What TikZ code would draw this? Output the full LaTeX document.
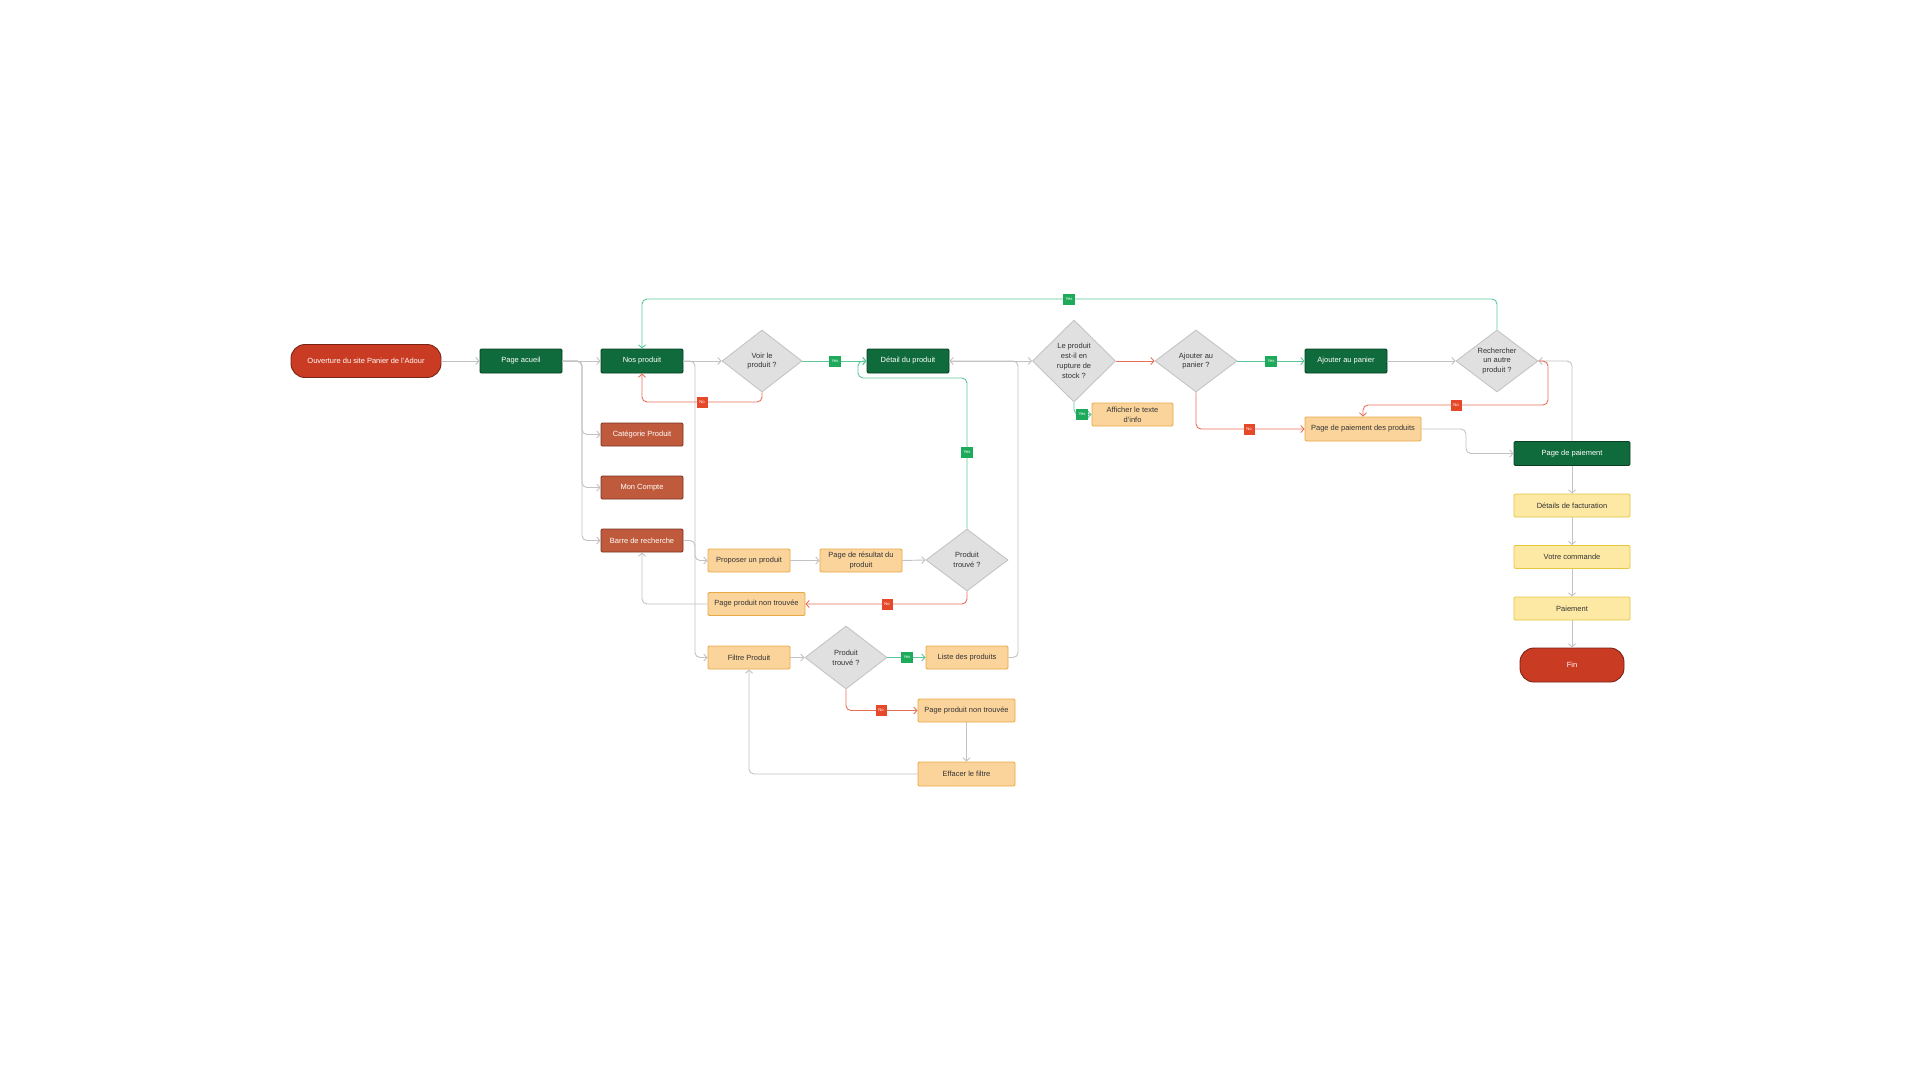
\documentclass[tikz,border=0pt]{standalone}
\usepackage{fontspec}
\setmainfont{Liberation Sans}
\usetikzlibrary{shapes.geometric,arrows.meta}
\definecolor{dgreen}{HTML}{0F6B3B}
\definecolor{dgreenb}{HTML}{0A3F22}
\definecolor{brn}{HTML}{BF5B3C}
\definecolor{brnb}{HTML}{7B3220}
\definecolor{orng}{HTML}{FBD49C}
\definecolor{orngb}{HTML}{E8A844}
\definecolor{yel}{HTML}{FDE9A4}
\definecolor{yelb}{HTML}{E5C840}
\definecolor{termred}{HTML}{C93B22}
\definecolor{termb}{HTML}{7A2415}
\definecolor{diaf}{HTML}{E0E0E0}
\definecolor{diab}{HTML}{C4C4C4}
\definecolor{txt}{HTML}{333333}
\definecolor{gline}{HTML}{C2C2C2}
\definecolor{grnline}{HTML}{5CC79A}
\definecolor{redline}{HTML}{E8705A}
\definecolor{yesf}{HTML}{1DAA5A}
\definecolor{nof}{HTML}{E5492A}
\newcommand\fsz{\fontsize{7.5}{9.8}\selectfont}
\newcommand\lblsz{\fontsize{4.2}{5}\selectfont}
\tikzset{
 boxbase/.style={draw, line width=0.9pt, inner sep=0pt, font=\fsz, align=center, rounded corners=1.2pt},
 gbox/.style={boxbase, fill=dgreen, draw=dgreenb, text=white, minimum width=82pt, minimum height=24pt},
 bbox/.style={boxbase, fill=brn, draw=brnb, text=white, minimum width=82pt, minimum height=23pt},
 obox/.style={boxbase, fill=orng, draw=orngb, text=txt, minimum width=82pt, minimum height=23pt},
 ybox/.style={boxbase, fill=yel, draw=yelb, text=txt, minimum width=116pt, minimum height=23pt},
 term/.style={boxbase, fill=termred, draw=termb, text=white, rounded corners=14pt},
 dia/.style={diamond, draw=diab, fill=diaf, line width=0.9pt, inner sep=0pt, minimum width=82pt, minimum height=62pt},
 dtext/.style={font=\fsz, align=center, text=txt, inner sep=0pt},
 gc/.style={draw=gline, line width=0.9pt, rounded corners=5pt, -{Straight Barb[length=3.2pt,width=7pt]}},
 gn/.style={gc, draw=grnline},
 rd/.style={gc, draw=redline},
 yeslbl/.style={fill=yesf, text=white, font=\lblsz, minimum width=12pt, minimum height=11pt, inner sep=0pt},
 nolbl/.style={fill=nof, text=white, font=\lblsz, minimum width=11pt, minimum height=11pt, inner sep=0pt},
}
\begin{document}
\begin{tikzpicture}[x=1pt,y=-1pt]
\fill[white] (0,0) rectangle (1920,1080);
\useasboundingbox (0,0) rectangle (1920,1080);

% nodes
\node[term, minimum width=150pt, minimum height=33pt] (ouv) at (366,361) {Ouverture du site Panier de l'Adour};
\node[gbox] (acc) at (521,361) {Page acueil};
\node[gbox] (nos) at (642,361) {Nos produit};
\node[dia, minimum width=80pt] (voir) at (762,361) {};
\node[dtext] (voirt) at (voir) {Voir le\\produit ?};
\node[bbox] (cat) at (642,434.5) {Catégorie Produit};
\node[bbox] (mon) at (642,487.5) {Mon Compte};
\node[bbox] (barre) at (642,540.5) {Barre de recherche};
\node[obox] (prop) at (749,560.5) {Proposer un produit};
\node[obox] (res) at (861,560.5) {Page de résultat du\\produit};
\node[dia] (tr1) at (967,560) {};
\node[dtext] (tr1t) at (tr1) {Produit\\trouvé ?};
\node[obox, minimum width=97pt] (pnt1) at (756.5,604) {Page produit non trouvée};
\node[obox] (filtre) at (749,657.5) {Filtre Produit};
\node[dia, minimum height=63pt] (tr2) at (846,657.5) {};
\node[dtext] (tr2t) at (tr2) {Produit\\trouvé ?};
\node[obox] (liste) at (967,657.5) {Liste des produits};
\node[obox, minimum width=97pt] (pnt2) at (966.5,710.5) {Page produit non trouvée};
\node[obox, minimum width=97pt, minimum height=24pt] (eff) at (966.5,774) {Effacer le filtre};
\node[gbox] (det) at (908,361) {Détail du produit};
\node[dia, minimum width=83pt, minimum height=82pt] (rupt) at (1074,361) {};
\node[dtext] (ruptt) at (rupt) {Le produit\\est-il en\\rupture de\\stock ?};
\node[obox, minimum width=81pt] (aff) at (1132.5,414.5) {Afficher le texte\\d'info};
\node[dia] (ajq) at (1196,361) {};
\node[dtext] (ajqt) at (ajq) {Ajouter au\\panier ?};
\node[gbox] (ajb) at (1346,361) {Ajouter au panier};
\node[dia] (rech) at (1497,361) {};
\node[dtext] (recht) at (rech) {Rechercher\\un autre\\produit ?};
\node[obox, minimum width=116pt, minimum height=24pt] (ppp) at (1363,429) {Page de paiement des produits};
\node[gbox, minimum width=116pt] (pp) at (1572,453.5) {Page de paiement};
\node[ybox] (fact) at (1572,505.5) {Détails de facturation};
\node[ybox] (cmd) at (1572,557) {Votre commande};
\node[ybox] (paie) at (1572,608.5) {Paiement};
\node[term, minimum width=104pt, minimum height=34pt] (fin) at (1572,665) {Fin};

% helper coordinates
\coordinate (bx) at (582,361);
\coordinate (nx) at (695,361);
\coordinate (bx2) at (695,540.5);
\coordinate (lx) at (1018,657.5);

% gray connectors
\draw[gc] (ouv.east) -- (acc.west);
\draw[gc] (acc.east) -- (nos.west);
\draw[gc] (acc.east) -- (bx) |- (cat.west);
\draw[gc] (acc.east) -- (bx) |- (mon.west);
\draw[gc] (acc.east) -- (bx) |- (barre.west);
\draw[gc] (nos.east) -- (voir.west);
\draw[gc] (nos.east) -- (nx) |- (filtre.west);
\draw[gc] (barre.east) -- (bx2) |- (prop.west);
\draw[gc] (prop.east) -- (res.west);
\draw[gc] (res.east) -- (tr1.west);
\draw[gc] (pnt1.west) -| (barre.south);
\draw[gc] (filtre.east) -- (tr2.west);
\draw[gc] (pnt2.south) -- (eff.north);
\draw[gc] (eff.west) -| (filtre.south);
\draw[gc] (det.east) -- (rupt.west);
\draw[gc] (liste.east) -- (lx) |- (det.east);
\draw[gc] (ajb.east) -- (rech.west);
\draw[gc] (pp.north) |- (rech.east);
\draw[gc] (ppp.east) -- (1466,429) -- (1466,453.5) -- (pp.west);
\draw[gc] (pp.south) -- (fact.north);
\draw[gc] (fact.south) -- (cmd.north);
\draw[gc] (cmd.south) -- (paie.north);
\draw[gc] (paie.south) -- (fin.north);

% green connectors
\draw[gn] (voir.east) -- (det.west);
\draw[gn] (tr1.north) -- (967,378) -- (858,378) -- (858,361) -- (det.west);
\draw[gn] (tr2.east) -- (liste.west);
\draw[gn] (rupt.south) |- (aff.west);
\draw[gn] (ajq.east) -- (ajb.west);
\draw[gn] (rech.north) -- (1497,299) -- (642,299) -- (nos.north);

% red connectors
\draw[rd] (voir.south) -- (762,402) -| (nos.south);
\draw[rd] (tr1.south) |- (pnt1.east);
\draw[rd] (tr2.south) |- (pnt2.west);
\draw[rd] (rupt.east) -- (ajq.west);
\draw[rd] (ajq.south) |- (ppp.west);
\draw[rd] (rech.east) -- (1548,361) -- (1548,405) -- (1363,405) -- (ppp.north);

% labels
\node[yeslbl] (y1) at (835,361) {Yes};
\node[yeslbl] (y2) at (967,452) {Yes};
\node[yeslbl] (y3) at (907,657.5) {Yes};
\node[yeslbl] (y4) at (1082,414.5) {Yes};
\node[yeslbl] (y5) at (1271,361) {Yes};
\node[yeslbl] (y6) at (1069,299) {Yes};
\node[nolbl] (n1) at (702,402) {No};
\node[nolbl] (n2) at (887,604) {No};
\node[nolbl] (n3) at (881,710.5) {No};
\node[nolbl] (n4) at (1249,429) {No};
\node[nolbl] (n5) at (1456,405) {No};
\end{tikzpicture}
\end{document}
